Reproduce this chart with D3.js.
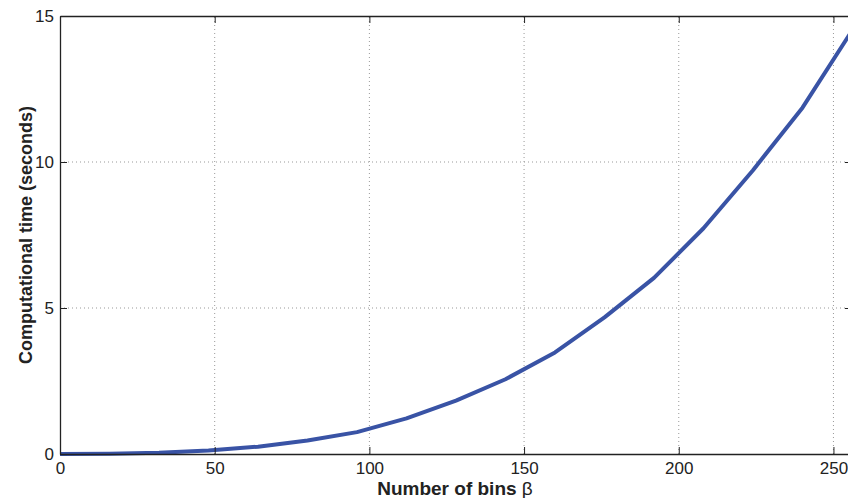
<!DOCTYPE html>
<html>
<head>
<meta charset="utf-8">
<script src="https://cdn.jsdelivr.net/npm/d3@7"></script>
<style>
  body { margin: 0; background: #fff; overflow: hidden; }
  text { font-family: "Liberation Sans", Arial, sans-serif; fill: #222; }
</style>
</head>
<body>
<article class="content"></article>
<script>
const w = 848;
const h = 498;
const margin = { top: 16, right: -4, bottom: 44, left: 60 }; // right axis sits just past the window edge

// data
const bins = [0, 16, 32, 48, 64, 80, 96, 112, 128, 144, 160, 176, 192, 208, 224, 240, 256];
const seconds = [0, 0.01, 0.04, 0.12, 0.25, 0.46, 0.75, 1.22, 1.83, 2.56, 3.48, 4.68, 6.03, 7.73, 9.72, 11.86, 14.5];
const xTicks = [0, 50, 100, 150, 200, 250];
const yTicks = [0, 5, 10, 15];

const svg = d3.select("article.content")
    .append("svg")
    .attr("width", w)
    .attr("height", h);

const xScale = d3.scaleLinear()
    .domain([0, 256])
    .range([margin.left, w - margin.right]);

const yScale = d3.scaleLinear()
    .domain([0, 15])
    .range([h - margin.bottom, margin.top]);

const x0 = xScale.range()[0], x1 = xScale.range()[1];
const y0 = yScale.range()[0], y1 = yScale.range()[1];

// dotted grid
svg.append("g")
    .selectAll("line.vgrid")
    .data(xTicks.filter(d => d > 0))
    .enter()
    .append("line")
    .attr("x1", d => xScale(d)).attr("x2", d => xScale(d))
    .attr("y1", y0).attr("y2", y1)
    .attr("stroke", "#999")
    .attr("stroke-width", 1)
    .attr("stroke-dasharray", "1,3");

svg.append("g")
    .selectAll("line.hgrid")
    .data(yTicks.filter(d => d > 0 && d < 15))
    .enter()
    .append("line")
    .attr("x1", x0).attr("x2", x1)
    .attr("y1", d => yScale(d)).attr("y2", d => yScale(d))
    .attr("stroke", "#999")
    .attr("stroke-width", 1)
    .attr("stroke-dasharray", "1,3");

// the curve
const line = d3.line()
    .x((d, i) => xScale(bins[i]))
    .y(d => yScale(d));

svg.append("path")
    .datum(seconds)
    .attr("d", line)
    .attr("fill", "none")
    .attr("stroke", "#3953a5")
    .attr("stroke-width", 4)
    .attr("stroke-linejoin", "round");

// axes, MATLAB style ticks pointing inward
const xAxis = d3.axisBottom(xScale).tickValues(xTicks).tickSizeInner(-7).tickSizeOuter(0).tickPadding(8);
const yAxis = d3.axisLeft(yScale).tickValues(yTicks).tickSizeInner(-7).tickSizeOuter(0).tickPadding(6);

svg.append("g")
    .attr("transform", `translate(0, ${y0})`)
    .call(xAxis);

svg.append("g")
    .attr("transform", `translate(${x0}, 0)`)
    .call(yAxis);

// top and right ticks
svg.append("g")
    .attr("transform", `translate(0, ${y1})`)
    .call(d3.axisTop(xScale).tickValues(xTicks).tickSizeInner(-7).tickSizeOuter(0).tickFormat(""));

svg.append("g")
    .attr("transform", `translate(${x1}, 0)`)
    .call(d3.axisRight(yScale).tickValues(yTicks).tickSizeInner(-7).tickSizeOuter(0).tickFormat(""));

svg.selectAll(".domain").attr("stroke", "#222").attr("stroke-width", 1.3);
svg.selectAll(".tick line").attr("stroke", "#222").attr("stroke-width", 1);
svg.selectAll(".tick text")
    .attr("font-size", 17)
    .attr("font-family", "Liberation Sans, Arial, sans-serif")
    .attr("fill", "#222");

// axis labels
const xLabel = svg.append("text")
    .attr("x", 455)
    .attr("y", 495)
    .attr("text-anchor", "middle")
    .attr("font-size", 19)
    .attr("font-weight", "bold");
xLabel.append("tspan").text("Number of bins ");
xLabel.append("tspan").attr("font-weight", "normal").text("β");

svg.append("text")
    .attr("transform", `translate(32, ${(y0 + y1) / 2}) rotate(-90)`)
    .attr("text-anchor", "middle")
    .attr("font-size", 18)
    .attr("font-weight", "bold")
    .text("Computational time (seconds)");
</script>
</body>
</html>
